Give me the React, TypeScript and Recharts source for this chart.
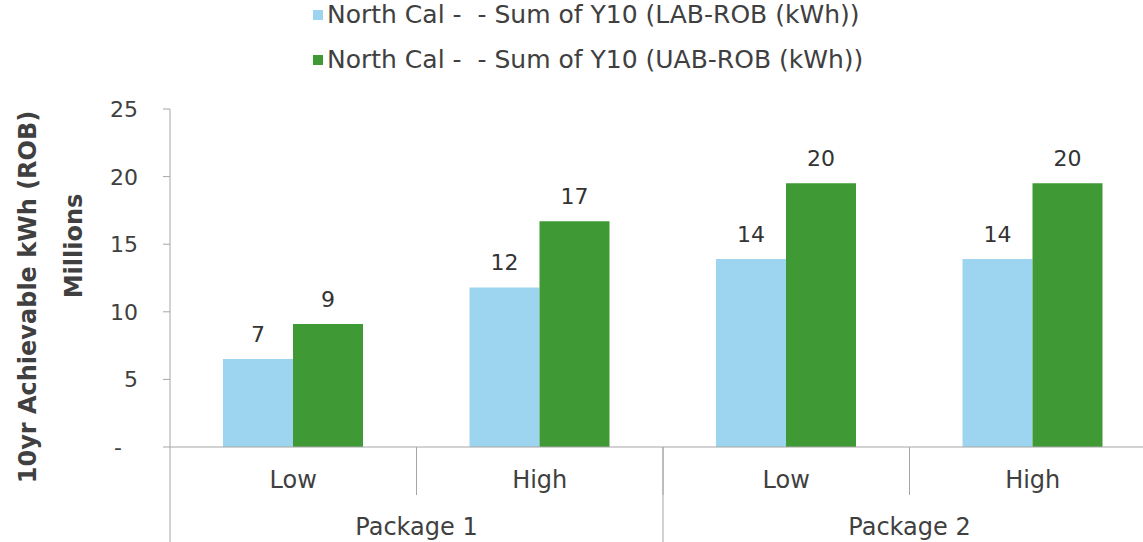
import React from 'react';
import { BarChart, Bar, XAxis, YAxis, Legend, LabelList, Label } from 'recharts';

const categories = ['Low', 'High', 'Low', 'High'];
const packages = ['Package 1', 'Package 1', 'Package 2', 'Package 2'];
const labValues = [6.5, 11.8, 13.9, 13.9];
const uabValues = [9.1, 16.7, 19.5, 19.5];
const yTicks = [0, 5, 10, 15, 20, 25];

const LAB_NAME = 'North Cal -  - Sum of Y10 (LAB-ROB (kWh))';
const UAB_NAME = 'North Cal -  - Sum of Y10 (UAB-ROB (kWh))';

const data = categories.map((cat, i) => ({
  cat,
  pkg: packages[i],
  lab: labValues[i],
  uab: uabValues[i],
}));

const FONT = '"DejaVu Sans", Verdana, sans-serif';
const TEXT = '#404040';
const LINE = '#a6a6a6';
const W = 1156;
const H = 542;
const AXIS_H = 48;

// Low / High row, with short dividers between categories
const CatTick = (props: any) => {
  const { x, y, payload } = props;
  const half = payload.offset ?? 123;
  return (
    <g>
      <line x1={x + half} y1={y} x2={x + half} y2={y + AXIS_H} stroke={LINE} />
      {payload.index === 0 && <line x1={x - half} y1={y} x2={x - half} y2={y + AXIS_H} stroke={LINE} />}
      <text x={x} y={y + 41} textAnchor="middle" fill={TEXT} fontSize={24} fontFamily={FONT}>
        {payload.value}
      </text>
    </g>
  );
};

// Package row, dividers run full height from the axis line
const PkgTick = (props: any) => {
  const { x, y, payload } = props;
  const half = payload.offset ?? 246;
  return (
    <g>
      <line x1={x + half} y1={y - AXIS_H} x2={x + half} y2={y + AXIS_H} stroke={LINE} />
      {payload.index === 0 && <line x1={x - half} y1={y} x2={x - half} y2={y + AXIS_H} stroke={LINE} />}
      <text x={x} y={y + 40} textAnchor="middle" fill={TEXT} fontSize={24} fontFamily={FONT}>
        {payload.value}
      </text>
    </g>
  );
};

const YTick = (props: any) => {
  const { x, y, payload } = props;
  const zero = payload.value === 0;
  return (
    <text x={zero ? x - 16 : x} y={y + 8} textAnchor="end" fill={TEXT} fontSize={22} fontFamily={FONT}>
      {zero ? '-' : payload.value}
    </text>
  );
};

const renderLegend = (props: any) => {
  const { payload } = props;
  return (
    <div style={{ height: 110, paddingLeft: 313, fontFamily: FONT, fontSize: 25, color: TEXT }}>
      {payload.map((p: any, i: number) => (
        <div key={i} style={{ display: 'flex', alignItems: 'center', height: 45, whiteSpace: 'pre', marginTop: i === 0 ? -8 : 0 }}>
          <span style={{ width: 10, height: 10, background: p.color, marginRight: 4, display: 'inline-block' }} />
          <span>{p.value}</span>
        </div>
      ))}
    </div>
  );
};

const YLabels = (props: any) => {
  const { viewBox } = props;
  const cy = viewBox.y + viewBox.height / 2;
  return (
    <g fontFamily={FONT} fontWeight="bold" fontSize={24} fill={TEXT}>
      <text transform={`translate(36, ${cy + 19}) rotate(-90)`} textAnchor="middle">
        10yr Achievable kWh (ROB)
      </text>
      <text transform={`translate(82, ${cy - 32}) rotate(-90)`} textAnchor="middle">
        Millions
      </text>
    </g>
  );
};

export default function App() {
  return (
    <div style={{ position: 'absolute', left: 0, top: 0, width: 1143, height: H, overflow: 'hidden', background: '#fff' }}>
      <BarChart width={W} height={H} data={data} margin={{ top: 7, right: 0, bottom: 0, left: 0 }} barCategoryGap="21.5%" barGap={0}>
        <Legend verticalAlign="top" content={renderLegend} wrapperStyle={{ top: 0, left: 0 }} />
        <XAxis
          xAxisId="cat"
          dataKey="cat"
          height={AXIS_H}
          tickSize={0}
          tickMargin={0}
          tickLine={false}
          axisLine={{ stroke: LINE }}
          tick={<CatTick />}
          interval={0}
        />
        <XAxis
          xAxisId="pkg"
          dataKey="pkg"
          allowDuplicatedCategory={false}
          height={H - 447 - AXIS_H}
          tickSize={0}
          tickMargin={0}
          tickLine={false}
          axisLine={false}
          tick={<PkgTick />}
          interval={0}
        />
        <YAxis
          width={170}
          domain={[0, 25]}
          ticks={yTicks}
          tickSize={7}
          tickMargin={25}
          tickLine={{ stroke: LINE }}
          axisLine={{ stroke: LINE }}
          tick={<YTick />}
        >
          <Label content={<YLabels />} />
        </YAxis>
        <Bar xAxisId="cat" dataKey="lab" name={LAB_NAME} fill="#9dd5f0" isAnimationActive={false}>
          <LabelList dataKey="lab" position="top" offset={17} formatter={(v: any) => Math.round(v)} fill="#333" fontSize={22} fontFamily={FONT} />
        </Bar>
        <Bar xAxisId="cat" dataKey="uab" name={UAB_NAME} fill="#3f9a35" isAnimationActive={false}>
          <LabelList dataKey="uab" position="top" offset={17} formatter={(v: any) => Math.round(v)} fill="#333" fontSize={22} fontFamily={FONT} />
        </Bar>
      </BarChart>
    </div>
  );
}
